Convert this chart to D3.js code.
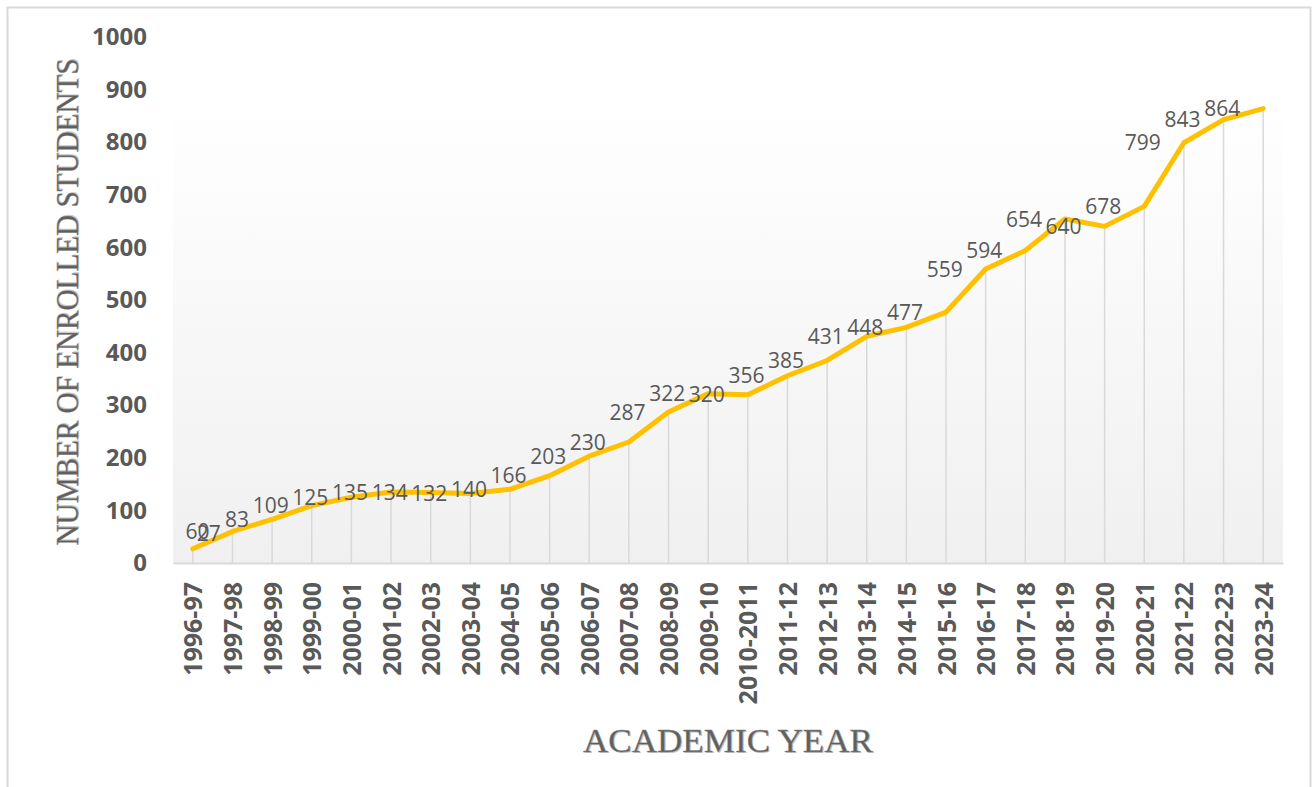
<!DOCTYPE html>
<html lang="en">
<head>
<meta charset="utf-8">
<title>Enrolled students by academic year</title>
<script src="https://cdn.jsdelivr.net/npm/d3@7"></script>
<style>
  body { margin: 0; background: #fff; }
  svg { display: block; }
  .tick text { font-family: "Open Sans", sans-serif; font-weight: bold; font-size: 24px; fill: #595959; }
  .lbl { font-family: "Open Sans", sans-serif; font-size: 21px; fill: #595959; }
  .ttl { font-family: "Liberation Serif", "DejaVu Serif", serif; fill: #5f5f5f; }
</style>
</head>
<body>
<script>
// data
var years = ["1996-97", "1997-98", "1998-99", "1999-00", "2000-01", "2001-02", "2002-03",
  "2003-04", "2004-05", "2005-06", "2006-07", "2007-08", "2008-09", "2009-10", "2010-2011",
  "2011-12", "2012-13", "2013-14", "2014-15", "2015-16", "2016-17", "2017-18", "2018-19",
  "2019-20", "2020-21", "2021-22", "2022-23", "2023-24"];
var students = [27, 60, 83, 109, 125, 135, 134, 132, 140, 166, 203, 230, 287, 322, 320,
  356, 385, 431, 448, 477, 559, 594, 654, 640, 678, 799, 843, 864];
var yTicks = [0, 100, 200, 300, 400, 500, 600, 700, 800, 900, 1000];

var width = 1313, height = 787;
var plot = {left: 173, right: 1283, top: 37, bottom: 563};

var svg = d3.select("body").append("svg")
  .attr("width", width)
  .attr("height", height);

// outer frame
svg.append("rect")
  .attr("x", 7.5).attr("y", 7.5)
  .attr("width", 1303).attr("height", 800)
  .attr("fill", "none")
  .attr("stroke", "#d9d9d9")
  .attr("stroke-width", 2);

var defs = svg.append("defs");
var grad = defs.append("linearGradient")
  .attr("id", "plotGrad")
  .attr("x1", 0).attr("y1", 0).attr("x2", 0).attr("y2", 1);
grad.append("stop").attr("offset", "0%").attr("stop-color", "#ffffff");
grad.append("stop").attr("offset", "100%").attr("stop-color", "#f0f0f0");

var x = d3.scalePoint()
  .domain(years)
  .range([plot.left, plot.right])
  .padding(0.5);

var y = d3.scaleLinear()
  .domain([0, 1000])
  .range([plot.bottom, plot.top]);

// plot area fill
svg.append("rect")
  .attr("x", plot.left).attr("y", y(880))
  .attr("width", plot.right - plot.left)
  .attr("height", plot.bottom - y(880))
  .attr("fill", "url(#plotGrad)");

// drop lines
svg.append("g").selectAll("line")
  .data(students)
  .enter().append("line")
  .attr("x1", function(d, i) { return x(years[i]); })
  .attr("x2", function(d, i) { return x(years[i]); })
  .attr("y1", function(d) { return y(d); })
  .attr("y2", y(0))
  .attr("stroke", "#d9d9d9")
  .attr("stroke-width", 1.5);

// y axis
var yAxis = svg.append("g")
  .attr("transform", "translate(" + plot.left + ",0)")
  .call(d3.axisLeft(y).tickValues(yTicks).tickFormat(d3.format("d")).tickSize(0).tickPadding(26));
yAxis.select(".domain").remove();

// x axis
var xAxis = svg.append("g")
  .attr("transform", "translate(0," + plot.bottom + ")")
  .call(d3.axisBottom(x).tickSize(0));
xAxis.select(".domain")
  .attr("stroke", "#d9d9d9")
  .attr("stroke-width", 2);
xAxis.selectAll(".tick text")
  .attr("transform", "rotate(-90)")
  .attr("x", -19)
  .attr("y", 0)
  .attr("dy", "0.36em")
  .style("font-size", "25px")
  .style("text-anchor", "end");

// the line
var line = d3.line()
  .x(function(d, i) { return x(years[i]); })
  .y(function(d) { return y(d); });

svg.append("path")
  .datum(students)
  .attr("d", line)
  .attr("fill", "none")
  .attr("stroke", "#ffc000")
  .attr("stroke-width", 5)
  .attr("stroke-linejoin", "round")
  .attr("stroke-linecap", "round");

// data labels, to the left of each point
var labels = svg.append("g").selectAll("text")
  .data(students)
  .enter().append("text")
  .attr("class", "lbl")
  .attr("dy", "0.36em")
  .text(function(d) { return d; });

labels.each(function(d, i) {
  var t = d3.select(this);
  var px = x(years[i]), py = y(d);
  var w = this.getComputedTextLength();
  if (px - 23 - w < plot.left + 10) {
    // no room on the left, push it right/up
    t.attr("x", px + 4).attr("y", py - 15).attr("text-anchor", "start");
  } else {
    t.attr("x", px - 23).attr("y", py).attr("text-anchor", "end");
  }
});

// axis titles
function title(g, txt, len, size) {
  g.append("text").attr("class", "ttl")
    .attr("x", 1.2).attr("y", 1.2)
    .attr("text-anchor", "middle")
    .attr("textLength", len).attr("lengthAdjust", "spacingAndGlyphs")
    .style("font-size", size + "px")
    .style("fill", "#c8c8c8")
    .text(txt);
  g.append("text").attr("class", "ttl")
    .attr("text-anchor", "middle")
    .attr("textLength", len).attr("lengthAdjust", "spacingAndGlyphs")
    .style("font-size", size + "px")
    .attr("stroke", "#8a8a8a").attr("stroke-width", 0.4)
    .text(txt);
}

var yTitle = svg.append("g")
  .attr("transform", "translate(78,302) rotate(-90)");
title(yTitle, "NUMBER OF ENROLLED STUDENTS", 487, 32);

var xTitle = svg.append("g")
  .attr("transform", "translate(728,752)");
title(xTitle, "ACADEMIC YEAR", 290, 34);
</script>
</body>
</html>
